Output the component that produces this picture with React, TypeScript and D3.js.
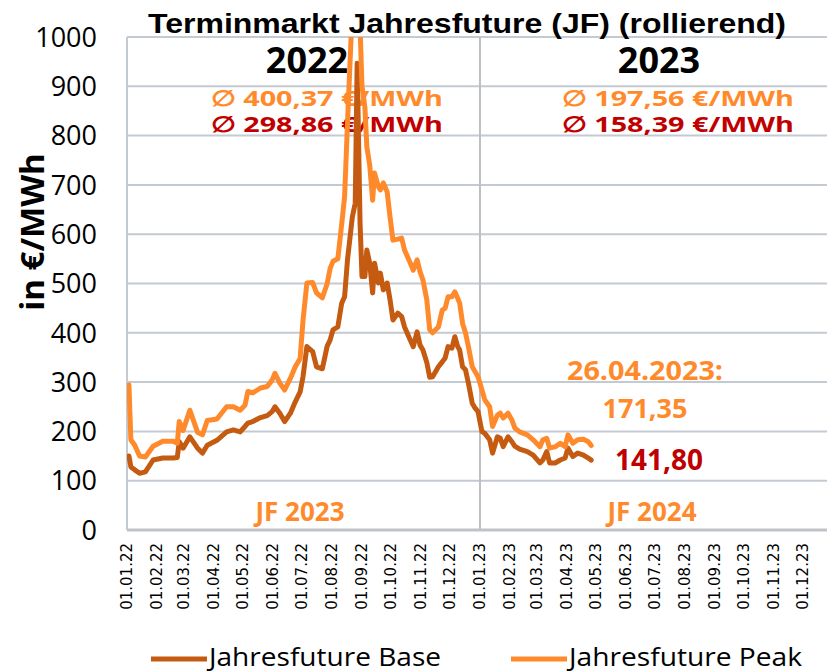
import React from 'react';
import * as d3 from 'd3';

// Terminmarkt JF (rollierend) – Base / Peak, €/MWh
const dates = [
  '2022-01-03', '2022-01-05', '2022-01-09', '2022-01-14', '2022-01-20', '2022-01-28',
  '2022-02-07', '2022-02-18', '2022-02-22', '2022-02-24', '2022-02-28', '2022-03-07',
  '2022-03-15', '2022-03-20', '2022-03-25', '2022-04-04', '2022-04-14', '2022-04-21',
  '2022-04-28', '2022-05-03', '2022-05-06', '2022-05-11', '2022-05-19', '2022-05-26',
  '2022-05-31', '2022-06-03', '2022-06-08', '2022-06-13', '2022-06-19', '2022-06-24',
  '2022-06-29', '2022-07-02', '2022-07-06', '2022-07-12', '2022-07-16', '2022-07-22',
  '2022-07-27', '2022-07-30', '2022-08-02', '2022-08-07', '2022-08-11', '2022-08-14',
  '2022-08-17', '2022-08-22', '2022-08-25', '2022-08-27', '2022-08-30', '2022-09-01',
  '2022-09-04', '2022-09-06', '2022-09-09', '2022-09-12', '2022-09-14', '2022-09-18',
  '2022-09-20', '2022-09-23', '2022-09-27', '2022-09-30', '2022-10-03', '2022-10-08',
  '2022-10-12', '2022-10-15', '2022-10-21', '2022-10-24', '2022-10-28', '2022-10-31',
  '2022-11-03', '2022-11-07', '2022-11-10', '2022-11-13', '2022-11-19', '2022-11-23',
  '2022-11-26', '2022-11-29', '2022-12-03', '2022-12-06', '2022-12-09', '2022-12-11',
  '2022-12-14', '2022-12-17', '2022-12-20', '2022-12-24', '2022-12-27', '2022-12-30',
  '2023-01-03', '2023-01-06', '2023-01-11', '2023-01-14', '2023-01-19', '2023-01-22',
  '2023-01-25', '2023-01-30', '2023-02-03', '2023-02-06', '2023-02-11', '2023-02-19',
  '2023-02-25', '2023-03-04', '2023-03-07', '2023-03-11', '2023-03-14', '2023-03-20',
  '2023-03-25', '2023-03-30', '2023-04-02', '2023-04-07', '2023-04-12', '2023-04-18',
  '2023-04-23', '2023-04-26',
];

const baseValues = [
  150, 128, 122, 115, 118, 142,
  146, 146, 147, 179, 166, 189,
  166, 156, 172, 182, 199, 203,
  199, 210, 217, 220, 228, 232,
  240, 250, 237, 220, 237, 260,
  280, 311, 372, 362, 331, 327,
  373, 385, 406, 412, 460, 473,
  548, 635, 663, 947, 622, 514,
  514, 568, 541, 481, 541, 501,
  521, 487, 501, 467, 426, 440,
  433, 412, 385, 372, 402, 375,
  365, 340, 310, 311, 331, 341,
  349, 372, 369, 392, 372, 365,
  331, 325, 298, 257, 247, 240,
  200, 196, 183, 156, 189, 186,
  169, 189, 179, 170, 164, 159,
  152, 136, 142, 159, 136, 136,
  142, 146, 166, 149, 156, 152,
  146, 141.8,
];

const peakValues = [
  294, 183, 172, 150, 148, 170,
  180, 180, 176, 220, 202, 243,
  198, 193, 222, 225, 250, 250,
  243, 253, 281, 278, 288, 291,
  304, 318, 298, 284, 308, 331,
  348, 425, 501, 502, 481, 471,
  500, 530, 545, 550, 620, 676,
  825, 1060, 1250, 1150, 1020, 900,
  858, 777, 740, 669, 724, 696,
  690, 704, 686, 635, 588, 590,
  592, 568, 541, 527, 548, 524,
  507, 467, 406, 400, 412, 446,
  450, 473, 473, 483, 470, 460,
  419, 400, 372, 331, 321, 311,
  284, 264, 250, 210, 233, 237,
  227, 237, 223, 207, 199, 193,
  183, 169, 183, 186, 166, 169,
  176, 169, 193, 176, 183, 184,
  179, 171.35,
];

const yTicks = [0, 100, 200, 300, 400, 500, 600, 700, 800, 900, 1000];
const seriesNames = ['Jahresfuture Base', 'Jahresfuture Peak'];
const yearLabels = ['2022', '2023'];
const peakAvgLabels = ['∅ 400,37 €/MWh', '∅ 197,56 €/MWh'];
const baseAvgLabels = ['∅ 298,86 €/MWh', '∅ 158,39 €/MWh'];
const contractLabels = ['JF 2023', 'JF 2024'];

const BASE_COLOR = '#C55A11';
const PEAK_COLOR = '#FF8A2C';
const RED = '#C00000';
const GRID = '#C3CAD2';
const FONT = '"Open Sans", "Noto Sans", sans-serif';

const parse = d3.utcParse('%Y-%m-%d');
const fmt = d3.utcFormat('%d.%m.%y');

export default function App() {
  const width = 827;
  const height = 672;
  const left = 127;
  const top = 37;
  const bottom = 530;

  const x = d3.scaleUtc()
    .domain([parse('2022-01-01')!, parse('2023-12-31')!])
    .range([left, 832]);
  const y = d3.scaleLinear().domain([0, 1000]).range([bottom, top]);

  const base = dates.map((d, i) => ({ date: parse(d)!, value: baseValues[i] }));
  const peak = dates.map((d, i) => ({ date: parse(d)!, value: peakValues[i] }));

  const line = d3.line<{ date: Date; value: number }>()
    .x(d => x(d.date))
    .y(d => y(d.value));

  const months = d3.utcMonth.range(parse('2022-01-01')!, parse('2023-12-02')!);
  const yearStart = x(parse('2023-01-01')!);
  const lastPeak = peakValues[peakValues.length - 1].toFixed(2).replace('.', ',');
  const lastBase = baseValues[baseValues.length - 1].toFixed(2).replace('.', ',');

  return (
    <svg width={width} height={height} style={{ position: 'absolute', left: 0, top: 0, background: '#fff' }}>
      <defs>
        <clipPath id="plot">
          <rect x={left} y={top} width={width - left} height={bottom - top} />
        </clipPath>
      </defs>

      {/* grid */}
      {yTicks.map(t => (
        <line key={t} x1={left} x2={width} y1={y(t)} y2={y(t)} stroke={GRID} strokeWidth={2} />
      ))}
      <line x1={left} x2={left} y1={top} y2={bottom} stroke={GRID} strokeWidth={2} />
      <line x1={yearStart} x2={yearStart} y1={top} y2={bottom} stroke="#BFBFBF" strokeWidth={2} />
      <line x1={left} x2={width} y1={bottom} y2={bottom} stroke="#BFC3C8" strokeWidth={3} />

      {/* y axis */}
      {yTicks.map(t => (
        <text key={t} x={97} y={y(t)} dy="0.36em" textAnchor="end" fontFamily={FONT} fontSize={27} fill="#000">
          {t}
        </text>
      ))}
      <text transform={`translate(44,232) rotate(-90)`} textAnchor="middle" fontFamily={FONT}
        fontWeight="bold" fontSize={33} fill="#000">in €/MWh</text>

      {/* x axis */}
      {months.map(m => (
        <text key={m.toISOString()} transform={`translate(${x(m) + 5},543) rotate(-90)`} textAnchor="end"
          fontFamily='"DejaVu Sans", Verdana, sans-serif' fontSize={15} fill="#000">
          {fmt(m)}
        </text>
      ))}

      {/* title */}
      <text x={467} y={33} textAnchor="middle" fontFamily='"Liberation Sans", Arial, sans-serif'
        fontWeight="bold" fontSize={27} textLength={638} lengthAdjust="spacingAndGlyphs" fill="#000">
        Terminmarkt Jahresfuture (JF) (rollierend)
      </text>

      {/* annotations */}
      {yearLabels.map((yl, i) => (
        <g key={yl} fontFamily={FONT} fontWeight="bold" textAnchor="middle">
          <text x={i === 0 ? 307 : 659} y={73} fontSize={36} fill="#000">{yl}</text>
          <text x={i === 0 ? 327 : 678} y={106} fontSize={22} fill={PEAK_COLOR} textLength={232} lengthAdjust="spacingAndGlyphs">{peakAvgLabels[i]}</text>
          <text x={i === 0 ? 327 : 678} y={132} fontSize={22} fill={RED} textLength={232} lengthAdjust="spacingAndGlyphs">{baseAvgLabels[i]}</text>
          <text x={i === 0 ? 300 : 652} y={521} fontSize={26} fill={PEAK_COLOR}>{contractLabels[i]}</text>
        </g>
      ))}
      <g fontFamily={FONT} fontWeight="bold" textAnchor="middle">
        <text x={645} y={380} fontSize={26} fill={PEAK_COLOR} textLength={156} lengthAdjust="spacingAndGlyphs">26.04.2023:</text>
        <text x={645} y={418} fontSize={27} fill={PEAK_COLOR}>{lastPeak}</text>
        <text x={659} y={470} fontSize={28} fill={RED}>{lastBase}</text>
      </g>

      {/* lines */}
      <g clipPath="url(#plot)" fill="none" strokeWidth={5} strokeLinejoin="round" strokeLinecap="round">
        <path d={line(base) ?? ''} stroke={BASE_COLOR} />
        <path d={line(peak) ?? ''} stroke={PEAK_COLOR} />
      </g>

      {/* legend */}
      <g fontFamily={FONT} fontSize={25}>
        <line x1={151} x2={207} y1={659} y2={659} stroke={BASE_COLOR} strokeWidth={5} />
        <text x={209} y={666} fill="#000" textLength={232} lengthAdjust="spacingAndGlyphs">{seriesNames[0]}</text>
        <line x1={511} x2={567} y1={659} y2={659} stroke={PEAK_COLOR} strokeWidth={5} />
        <text x={569} y={666} fill="#000" textLength={233} lengthAdjust="spacingAndGlyphs">{seriesNames[1]}</text>
      </g>
    </svg>
  );
}
